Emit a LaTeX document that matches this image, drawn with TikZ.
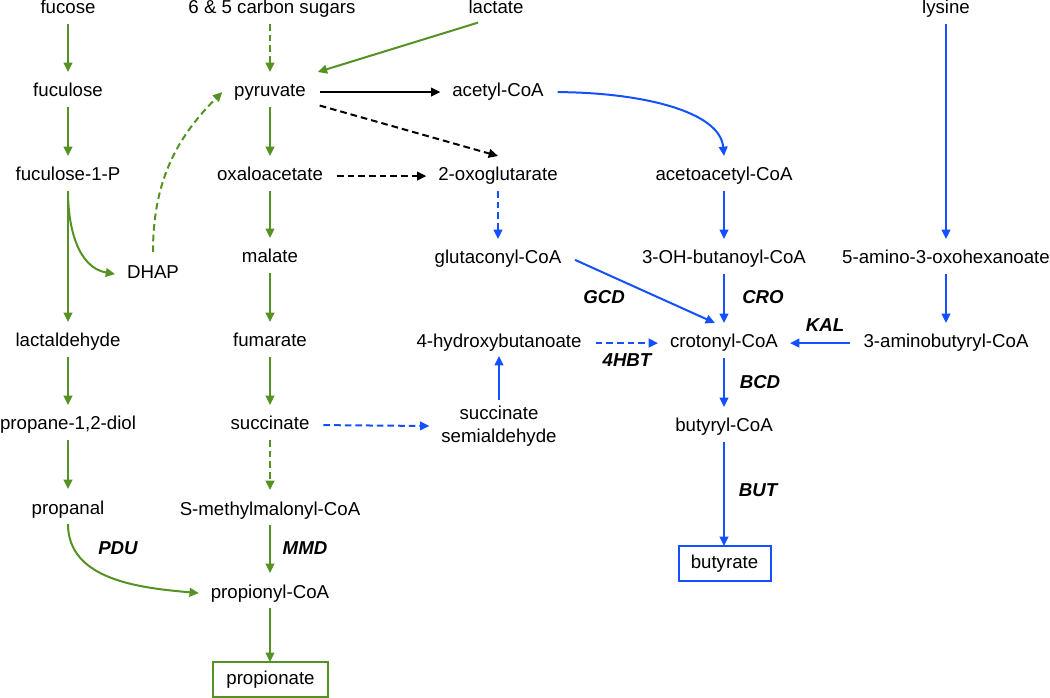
\documentclass[tikz,border=0pt]{standalone}
\usepackage{fontspec}
\setmainfont{Liberation Sans}
\usetikzlibrary{arrows.meta,calc}
\definecolor{pgreen}{RGB}{86,145,36}
\definecolor{pblue}{RGB}{20,80,255}
\tikzset{
  met/.style={anchor=base, inner xsep=6pt, inner ysep=0pt, outer sep=3pt, text height=15.75pt, text depth=3pt},
  ssabox/.style={align=center, inner xsep=6pt, inner ysep=0pt, outer sep=3pt},
  endbox/.style={draw, line width=1.5pt, minimum height=26.25pt, inner sep=0pt, outer sep=0pt, text height=10pt, text depth=3pt},
  enz/.style={font=\fontsize{14}{17}\selectfont\bfseries\itshape, inner sep=0pt},
  conn/.style={line width=1.5pt, -{Triangle[length=7pt,width=6.5pt]}, shorten <=1.5pt},
  dsh/.style={dash pattern=on 5pt off 3pt},
  gline/.style={conn, draw=pgreen},
  bline/.style={conn, draw=pblue},
  kline/.style={conn, draw=black}
}
\begin{document}
\begin{tikzpicture}[x=0.75pt,y=-0.75pt,font=\fontsize{14}{17}\selectfont]
\useasboundingbox (0,0) rectangle (1050,698);
% metabolites
\node[met] (fucose) at (68,14) {fucose};
\node[met] (sugars) at (272,14) {6 \& 5 carbon sugars};
\node[met] (lactate) at (496,14) {lactate};
\node[met] (lysine) at (946,14) {lysine};
\node[met] (fuculose) at (68,97) {fuculose};
\node[met] (pyr) at (270,97) {pyruvate};
\node[met] (acetyl) at (498,97) {acetyl-CoA};
\node[met] (fucP) at (68,181) {fuculose-1-P};
\node[met] (oxa) at (270,181) {oxaloacetate};
\node[met] (oxo) at (498,181) {2-oxoglutarate};
\node[met] (acac) at (724,181) {acetoacetyl-CoA};
\node[met] (dhap) at (153,279) {DHAP};
\node[met] (malate) at (270,263) {malate};
\node[met] (glut) at (498,264) {glutaconyl-CoA};
\node[met] (oh) at (724,264) {3-OH-butanoyl-CoA};
\node[met] (amino) at (946,264) {5-amino-3-oxohexanoate};
\node[met] (lactald) at (68,347) {lactaldehyde};
\node[met] (fum) at (270,347) {fumarate};
\node[met] (hb) at (499,348) {4-hydroxybutanoate};
\node[met] (crot) at (724,348) {crotonyl-CoA};
\node[met] (aminob) at (946,348) {3-aminobutyryl-CoA};
\node[met] (diol) at (68,430) {propane-1,2-diol};
\node[met] (succ) at (270,430) {succinate};
\node[ssabox] (ssa) at (499,426) {succinate\\semialdehyde};
\node[met] (butyryl) at (724,432) {butyryl-CoA};
\node[met] (propanal) at (68,514) {propanal};
\node[met] (smm) at (270,515) {S-methylmalonyl-CoA};
\node[met] (propCoA) at (270,598) {propionyl-CoA};
\node[endbox, draw=pgreen, minimum width=86.25pt] (propionate) at (270.5,679.5) {propionate};
\node[endbox, draw=pblue, minimum width=69pt] (butyrate) at (724.5,563.5) {butyrate};
% enzyme labels
\node[enz] (gcd) at (604,297) {GCD};
\node[enz] (hbt) at (627,360) {4HBT};
\node[enz] (cro) at (763,297) {CRO};
\node[enz] (kal) at (825,325) {KAL};
\node[enz] (bcd) at (760,382) {BCD};
\node[enz] (but) at (758,490) {BUT};
\node[enz] (pdu) at (118,548) {PDU};
\node[enz] (mmd) at (305,548) {MMD};
% green connectors
\draw[gline] (fucose.south) -- (fuculose.north);
\draw[gline] (fuculose.south) -- (fucP.north);
\draw[gline] (fucP.south) -- (lactald.north);
\draw[gline] (lactald.south) -- (diol.north);
\draw[gline] (diol.south) -- (propanal.north);
\draw[gline] (fucP.south) to[out=-90,in=170] ($(dhap.west)+(0,3.6)$);
\draw[gline,dsh] (dhap.north) to[out=90,in=225] ($(pyr.west)+(0,3.6)$);
\draw[gline,dsh] (pyr.north |- sugars.south) -- (pyr.north);
\draw[gline] ($(lactate.south)+(-16,0)$) -- (pyr.north east);
\draw[gline] (pyr.south) -- (oxa.north);
\draw[gline] (oxa.south) -- (malate.north);
\draw[gline] (malate.south) -- (fum.north);
\draw[gline] (fum.south) -- (succ.north);
\draw[gline,dsh] (succ.south) -- (smm.north);
\draw[gline] (smm.south) -- (propCoA.north);
\draw[gline] (propCoA.south) -- (propCoA.south |- propionate.north);
\draw[gline] (propanal.south) to[out=-90,in=175] ($(propCoA.west)+(0,3.6)$);
% black connectors
\draw[kline] ($(pyr.east)+(0,3.6)$) -- ($(acetyl.west)+(0,3.6)$);
\draw[kline,dsh] (pyr.south east) -- (oxo.north);
\draw[kline,dsh] ($(oxa.east)+(0,3.6)$) -- ($(oxo.west)+(0,3.6)$);
% blue connectors
\draw[bline] ($(acetyl.east)+(0,3.6)$) .. controls ($(acetyl.east)+(85,4)$) and ($(acac.north)+(-4,-45)$) .. (acac.north);
\draw[bline,dsh] (oxo.south) -- (glut.north);
\draw[bline] (acac.south) -- (oh.north);
\draw[bline] (oh.south) -- (crot.north);
\draw[bline] (crot.south) -- (butyryl.north);
\draw[bline] (butyryl.south) -- (butyryl.south |- butyrate.north);
\draw[bline] ($(glut.east)+(0,3.6)$) -- ($(crot.north)+(-9,0)$);
\draw[bline,dsh] ($(hb.east)+(0,3.6)$) -- ($(crot.west)+(0,3.6)$);
\draw[bline,dsh] ($(succ.east)+(0,3.6)$) -- (ssa.west);
\draw[bline] (ssa.north) -- (hb.south);
\draw[bline] (lysine.south) -- (amino.north);
\draw[bline] (amino.south) -- (aminob.north);
\draw[bline] ($(aminob.west)+(0,3.6)$) -- ($(crot.east)+(0,3.6)$);
\end{tikzpicture}
\end{document}
